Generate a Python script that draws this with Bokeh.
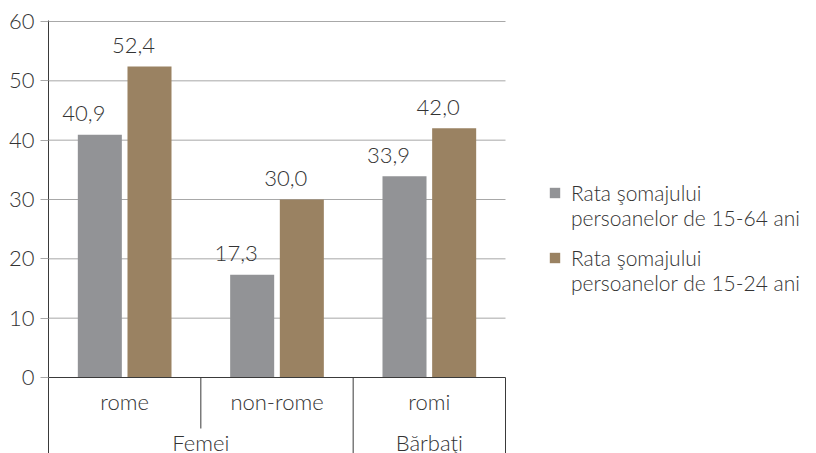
from bokeh.plotting import figure
from bokeh.models import Range1d, FixedTicker, Legend, LegendItem, ColumnDataSource
from bokeh.core.properties import value
from bokeh.embed import file_html
from bokeh.resources import INLINE

categories = ["rome", "non-rome", "romi"]
groups = ["Femei", "Bărbaţi"]
group_spans = [2, 1]
rate_15_64 = [40.9, 17.3, 33.9]
rate_15_24 = [52.4, 30.0, 42.0]
legend_line1 = ["Rata şomajului", "Rata şomajului"]
legend_line2 = ["persoanelor de 15-64 ani", "persoanelor de 15-24 ani"]
y_ticks = [0, 10, 20, 30, 40, 50, 60]

FONT_NAME = "Lato Light"
FONT = value(FONT_NAME)
TXT = "#333333"
GRAY = "#929396"
BROWN = "#9a8262"
GRID = "#a8a8a8"
AXIS = "#3a3a3a"

n = len(categories)
px_per_unit = (377 - 21) / 60.0
y_top = 60 + 1 / px_per_unit
y_bot = -(453 - 377) / px_per_unit
px_per_cat = (505 - 48) / n
x_end = (816 - 48) / px_per_cat

p = figure(width=816, height=453, output_backend="svg", toolbar_location=None,
           x_range=Range1d(0, x_end), y_range=Range1d(y_bot, y_top),
           min_border_left=48, min_border_right=0, min_border_top=20, min_border_bottom=0,
           x_axis_location=None)
p.outline_line_color = None
p.background_fill_color = "white"
p.xgrid.visible = False
p.ygrid.visible = False

xc = [i + 0.5 for i in range(n)]
offset = 0.163
width = 0.289
src = ColumnDataSource(dict(
    xa=[x - offset for x in xc], xb=[x + offset for x in xc],
    a=rate_15_64, b=rate_15_24,
    la=[f"{v:.1f}".replace(".", ",") for v in rate_15_64],
    lb=[f"{v:.1f}".replace(".", ",") for v in rate_15_24]))

# horizontal grid lines only across the category area
gt = y_ticks[1:]
p.segment(x0=[0] * len(gt), y0=gt, x1=[n] * len(gt), y1=gt, line_color=GRID, line_width=1)

yax = p.yaxis[0]
yax.ticker = FixedTicker(ticks=y_ticks)
yax.major_tick_out = 8
yax.major_tick_in = 0
yax.minor_tick_out = 0
yax.minor_tick_in = 0
yax.major_tick_line_color = GRID
yax.axis_line_color = AXIS
yax.major_label_text_font = FONT_NAME
yax.major_label_text_font_size = "22px"
yax.major_label_text_color = TXT
yax.major_label_standoff = 6

ra = p.vbar(x="xa", top="a", width=width, source=src, fill_color=GRAY, line_color=None)
rb = p.vbar(x="xb", top="b", width=width, source=src, fill_color=BROWN, line_color=None)

for xcol, col, lab in (("xa", "a", "la"), ("xb", "b", "lb")):
    p.text(x=xcol, y=col, text=lab, source=src,
           text_font=FONT, text_font_size="22px", text_color=TXT,
           text_align="center", text_baseline="alphabetic", x_offset=-16, y_offset=-21)

# x axis line at 0
p.segment(x0=[0], y0=[0], x1=[n], y1=[0], line_color=AXIS, line_width=1)

# category labels
p.text(x=xc, y=[-(401 - 377) / px_per_unit] * n, text=categories,
       text_font=FONT, text_font_size="22px", text_color=TXT,
       text_align="center", text_baseline="alphabetic")

# group labels & separators
bounds = [0]
for s in group_spans:
    bounds.append(bounds[-1] + s)
gx = [(bounds[i] + bounds[i + 1]) / 2 for i in range(len(groups))]
p.text(x=gx, y=[-(442 - 377) / px_per_unit] * len(groups), text=groups,
       text_font=FONT, text_font_size="22px", text_color=TXT,
       text_align="center", text_baseline="alphabetic")

sep_x, sep_y1 = [], []
for k in range(1, n + 1):
    sep_x.append(k)
    sep_y1.append(y_bot if k in bounds else -(428 - 377) / px_per_unit)
p.segment(x0=sep_x, y0=[0] * n, x1=sep_x, y1=sep_y1, line_color=AXIS, line_width=1)

# legend: one small legend per series, swatch on the first line only
blank = p.vbar(x=[], top=[], width=0.1, fill_alpha=0, line_alpha=0)
for r, l1, l2, ypos in ((ra, legend_line1[0], legend_line2[0], 223),
                        (rb, legend_line1[1], legend_line2[1], 158)):
    lg = Legend(items=[LegendItem(label=l1, renderers=[r]),
                       LegendItem(label=l2, renderers=[blank])],
                location=(500, ypos), orientation="vertical",
                glyph_width=13, glyph_height=13, label_text_font=FONT_NAME,
                label_text_font_size="21px", label_text_color=TXT,
                label_height=13, spacing=0, padding=0, margin=0, label_standoff=10,
                border_line_color=None, background_fill_alpha=0)
    p.add_layout(lg, "center")

open("out.html", "w").write(file_html(p, INLINE))
